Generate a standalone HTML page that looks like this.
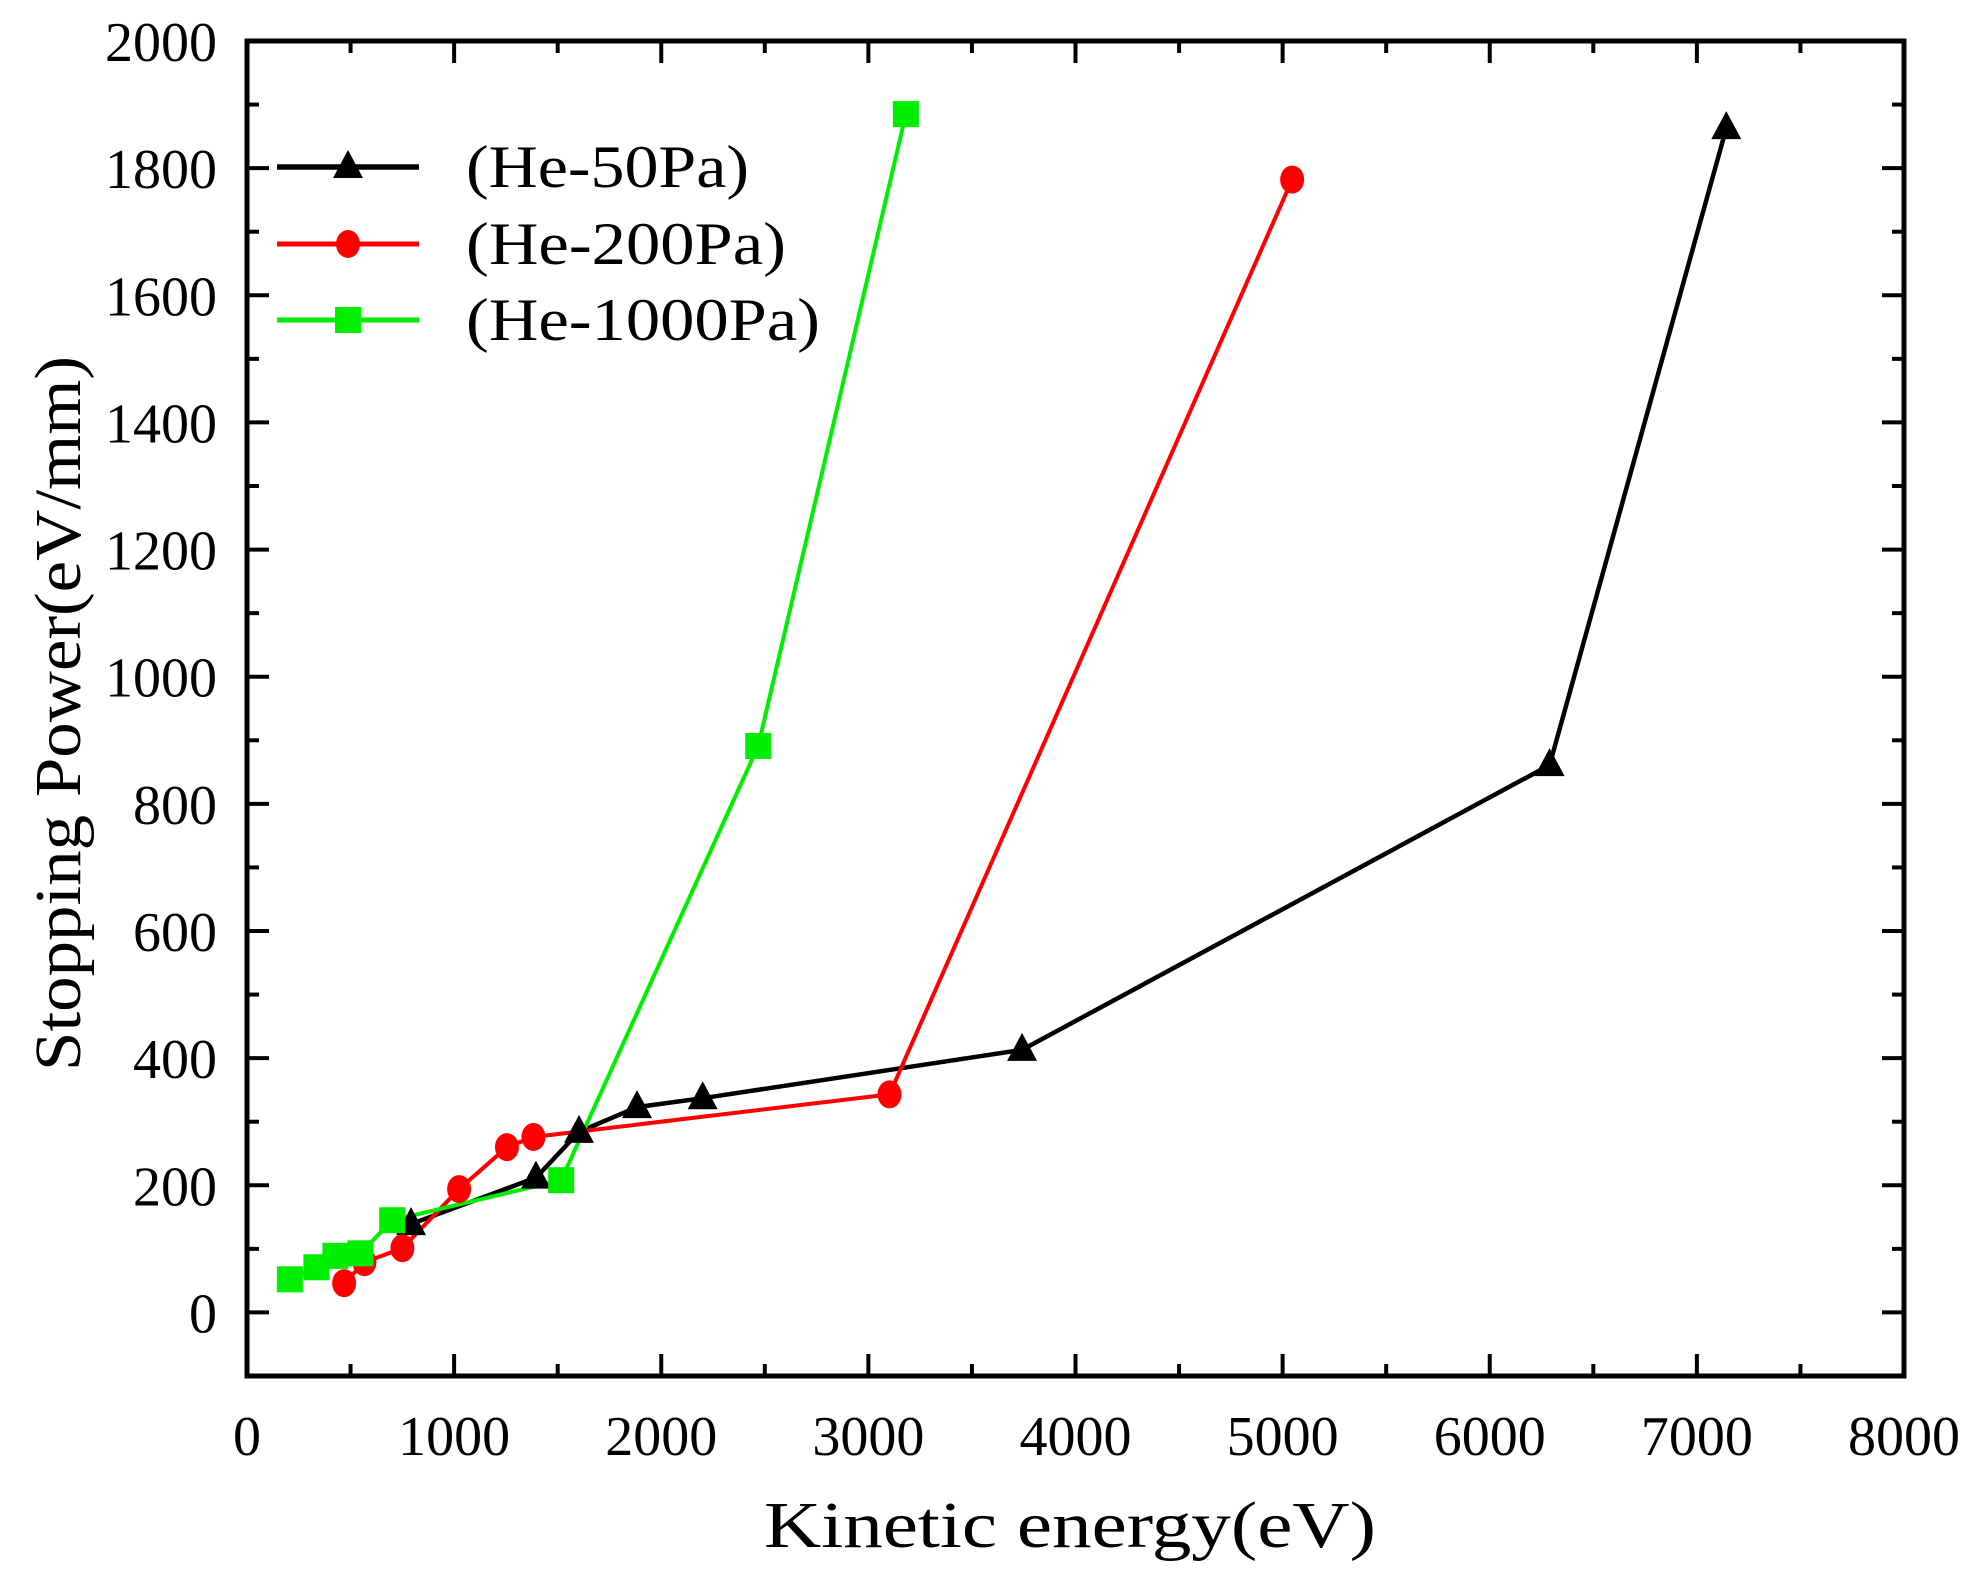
<!DOCTYPE html>
<html><head><meta charset="utf-8"><style>html,body{margin:0;padding:0;background:#fff}svg{display:block}</style></head>
<body>
<svg id="chart" width="1980" height="1570" viewBox="0 0 1980 1570" xmlns="http://www.w3.org/2000/svg" font-family="'Liberation Serif', serif">
<g id="axes"></g><g id="series"></g><g id="legend"></g>
</svg>
<script>
const xTicks=[0,1000,2000,3000,4000,5000,6000,7000,8000];
const yTicks=[0,200,400,600,800,1000,1200,1400,1600,1800,2000];
const seriesNames=["(He-50Pa)","(He-200Pa)","(He-1000Pa)"];
const he50X=[792,1395,1603,1883,2200,3742,6289,7142];
const he50Y=[139,212,284,323,337,413,861,1863];
const he200X=[469,567,750,1024,1255,1383,3102,5046];
const he200Y=[46,79,101,194,260,276,343,1782];
const he1000X=[207,335,427,548,701,1517,2468,3181];
const he1000Y=[52,71,89,93,145,208,891,1885];

const NS="http://www.w3.org/2000/svg";
const L=247,R=1904,T=41,B=1376,xMin=0,xMax=8000,yMin=-100,yMax=2000;
const sx=v=>L+(v-xMin)/(xMax-xMin)*(R-L);
const sy=v=>B-(v-yMin)/(yMax-yMin)*(B-T);
function mk(tag,attrs,parent){const e=document.createElementNS(NS,tag);for(const k in attrs)e.setAttribute(k,attrs[k]);parent.appendChild(e);return e;}
const axes=document.getElementById('axes'),ser=document.getElementById('series'),leg=document.getElementById('legend');

const frame=mk('rect',{x:L,y:T,width:R-L,height:B-T,fill:'none',stroke:'#000','stroke-width':5},axes);



for(let v=0;v<=8000;v+=500){
  const major=v%1000===0,len=major?22:12,x=sx(v);
  const t1=mk('line',{x1:x,y1:B,x2:x,y2:B-len,stroke:'#000','stroke-width':4},axes);
  
  
  const t2=mk('line',{x1:x,y1:T,x2:x,y2:T+len,stroke:'#000','stroke-width':4},axes);
  
  
}
xTicks.forEach(v=>{
  const t=mk('text',{x:sx(v),y:1455,'text-anchor':'middle','font-size':56,fill:'#000'},axes);
  t.textContent=v;
  
  
});
for(let v=-100;v<=2000;v+=100){
  const major=v%200===0,len=major?22:12,y=sy(v);
  const t1=mk('line',{x1:L,y1:y,x2:L+len,y2:y,stroke:'#000','stroke-width':4},axes);
  
  
  const t2=mk('line',{x1:R,y1:y,x2:R-len,y2:y,stroke:'#000','stroke-width':4},axes);
  
  
}
yTicks.forEach(v=>{
  const t=mk('text',{x:217,y:sy(v)+20,'text-anchor':'end','font-size':56,fill:'#000'},axes);
  t.textContent=v;
  
  
});
const xt=mk('text',{x:764,y:1547,'font-size':66,textLength:612,lengthAdjust:'spacingAndGlyphs',fill:'#000'},axes);
xt.textContent='Kinetic energy(eV)';


const yt=mk('text',{x:0,y:0,'font-size':66,textLength:715,lengthAdjust:'spacingAndGlyphs',fill:'#000',transform:'translate(80,1071) rotate(-90)'},axes);
yt.textContent='Stopping Power(eV/mm)';



function marker(kind,x,y,color,parent){
  let m;
  if(kind==='tri') m=mk('polygon',{points:`${x},${y-17} ${x-15},${y+11} ${x+15},${y+11}`,fill:color},parent);
  else if(kind==='circ') m=mk('ellipse',{cx:x,cy:y,rx:12,ry:14,fill:color},parent);
  else m=mk('rect',{x:x-13,y:y-13,width:26,height:26,fill:color},parent);
  return m;
}
const defs=[[he50X,he50Y,'#000','tri',4.5],[he200X,he200Y,'#ff0000','circ',4],[he1000X,he1000Y,'#00ee00','sq',4]];
defs.forEach((d,i)=>{
  const [xs,ys,c,k,w]=d;
  const pts=xs.map((v,j)=>sx(v)+','+sy(ys[j])).join(' ');
  const pl=mk('polyline',{points:pts,fill:'none',stroke:c,'stroke-width':w},ser);
  
  
});
defs.forEach((d,i)=>{
  const [xs,ys,c,k]=d;
  xs.forEach((v,j)=>{
    const m=marker(k,sx(v),sy(ys[j]),c,ser);
    
    
  });
});
const legY=[167,244,320];
const legLen=[283,320,354];
defs.forEach((d,i)=>{
  const [,,c,k,w]=d;
  const ln=mk('line',{x1:277,y1:legY[i],x2:419,y2:legY[i],stroke:c,'stroke-width':w+1},leg);
  
  
  const m=marker(k,348,legY[i],c,leg);
  
  
  const t=mk('text',{x:466,y:legY[i]+20,'font-size':60,textLength:legLen[i],lengthAdjust:'spacingAndGlyphs',fill:'#000'},leg);
  t.textContent=seriesNames[i];
  
  
});
</script>
</body></html>
